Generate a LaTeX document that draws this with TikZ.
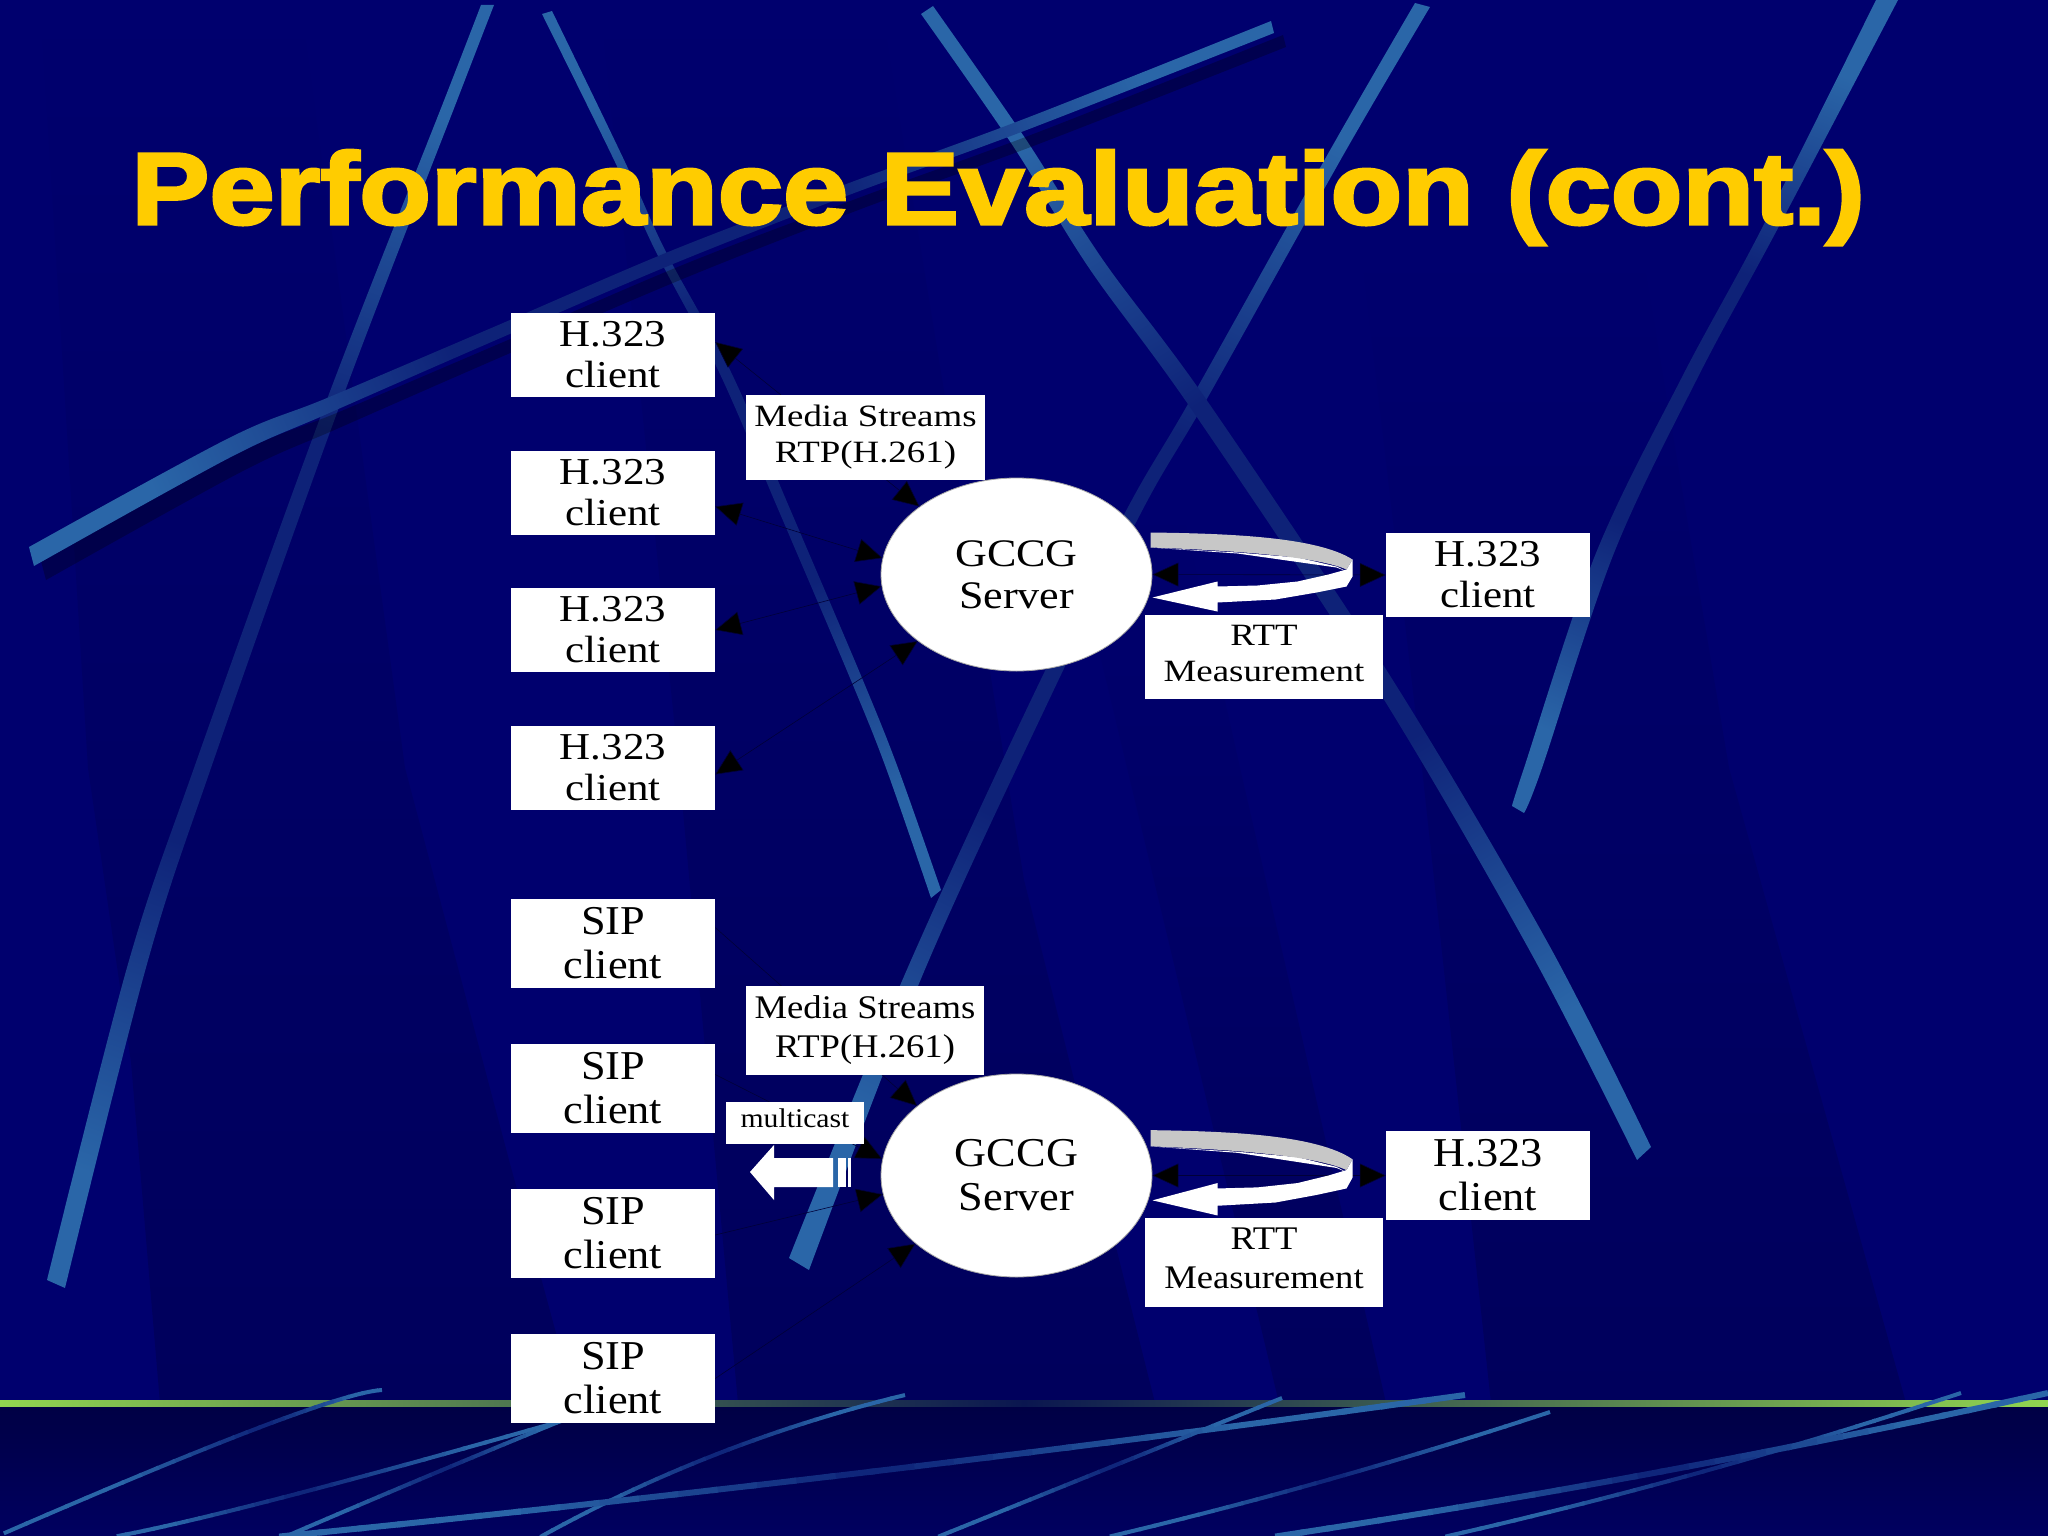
\documentclass[tikz,border=0pt]{standalone}
\usepackage{fontspec}
\usetikzlibrary{arrows.meta,shapes.geometric}
\setmainfont{Liberation Serif}
\font\titlef="Liberation Sans/B:extend=1.15;embolden=3" at 102pt
\newfontfamily\fa{Liberation Serif}[FakeStretch=1.13]
\newfontfamily\fb{Liberation Serif}[FakeStretch=1.08]
\newfontfamily\fc{Liberation Serif}[FakeStretch=1.19]
\newfontfamily\fd{Liberation Serif}[FakeStretch=1.11]
\newfontfamily\fe{Liberation Serif}[FakeStretch=1.10]
\definecolor{navy}{HTML}{00006E}
\definecolor{navydark}{HTML}{00005C}
\definecolor{sB}{HTML}{2A66A8}
\definecolor{sD}{HTML}{0E2278}
\definecolor{gold}{HTML}{FFCC00}
\definecolor{lineg}{HTML}{92D650}
\definecolor{lined}{HTML}{0A1650}
\definecolor{connc}{HTML}{000038}
\definecolor{lowA}{HTML}{000044}
\definecolor{lowB}{HTML}{000060}
\pgfdeclareverticalshading{streak}{100bp}{color(0bp)=(sB);color(24bp)=(sB);color(40bp)=(sD);color(60bp)=(sD);color(76bp)=(sB);color(100bp)=(sB)}
\newcommand\dn[1]{\rule[-#1pt]{0pt}{#1pt}}
\tikzset{
  wbox/.style={fill=white,inner sep=0pt,align=center,anchor=center,text=black},
  clientA/.style={wbox,minimum width=204pt,minimum height=84pt,font=\fontsize{38}{41}\fa},
  clientB/.style={wbox,minimum width=204pt,minimum height=89pt,font=\fontsize{41}{44}\fb},
  labelA/.style={wbox,font=\fontsize{31}{36}\fc},
  labelB/.style={wbox,font=\fontsize{33}{39}\fd},
  server/.style={ellipse,fill=white,draw=gray!70,line width=.8pt,inner sep=0pt,minimum width=271pt,align=center,text=black},
  conn/.style={draw=connc,line width=.6pt,{Triangle[length=26pt,width=24pt,fill=black]}-{Triangle[length=26pt,width=24pt,fill=black]}},
  connR/.style={draw=connc,line width=.6pt,-{Triangle[length=26pt,width=24pt,fill=black]}},
  sk/.style={shading=streak},
  smo/.style={smooth,tension=.55},
}
\newcommand\thinline[7]{%
  \foreach \i in {0,...,29}{%
    \pgfmathsetmacro\ta{\i/30}%
    \pgfmathsetmacro\tb{(\i+1.15)/30}%
    \pgfmathsetmacro\mixv{min(100,abs(2*(\ta+.0167)-1)*160)}%
    \pgfmathsetmacro\xa{(1-\ta)^2*#1+2*\ta*(1-\ta)*#3+\ta^2*#5}%
    \pgfmathsetmacro\ya{(1-\ta)^2*#2+2*\ta*(1-\ta)*#4+\ta^2*#6}%
    \pgfmathsetmacro\xb{(1-\tb)^2*#1+2*\tb*(1-\tb)*#3+\tb^2*#5}%
    \pgfmathsetmacro\yb{(1-\tb)^2*#2+2*\tb*(1-\tb)*#4+\tb^2*#6}%
    \draw[line width=#7pt,color=sB!\mixv!sD] (\xa,\ya) -- (\xb,\yb);
  }}
\newcommand\rttband{%
  \fill[white] (134,-27) -- (221,-22) -- (281,-17) -- (320,-8) -- (330,-3) -- (320,-7) -- (221,-21) -- cycle;
  \fill[white] (336,-15) -- (336,2) -- (330,12) -- (300,18) -- (259,25) -- (201,28) -- (201,37) -- (136,23) -- (201,7) -- (201,12) -- (241,11) -- (281,7) -- (312,0) -- (330,-5) -- cycle;
  \fill[black!22] (134,-42) .. controls (210,-41) and (300,-38) .. (336,-15) -- (330,-5) .. controls (300,-18) and (220,-24) .. (134,-27) -- cycle;
}
\begin{document}
\begin{tikzpicture}[x=1pt,y=-1pt]
\useasboundingbox (0,0) rectangle (2048,1536);
\clip (0,0) rectangle (2048,1536);
% background
\fill[navy] (0,0) rectangle (2048,1403);
\shade[top color=navy,bottom color=navydark] (40,0) -- (300,0) -- (405,768) -- (509,1160) -- (575,1403) -- (160,1403) -- (131,1062) -- (88,768) -- cycle;
\shade[top color=navy,bottom color=navydark] (600,0) -- (880,0) -- (1024,880) -- (1155,1403) -- (738,1403) -- (679,768) -- cycle;
\shade[top color=navy,bottom color=navydark] (1063,500) -- (1180,500) -- (1240,768) -- (1386,1403) -- (1279,1403) -- cycle;
\shade[top color=navy,bottom color=navydark] (1360,240) -- (1640,240) -- (1729,768) -- (1906,1403) -- (1491,1403) -- (1422,768) -- cycle;
\shade[top color=lowA,bottom color=lowB] (0,1403) rectangle (2048,1536);
% upper streaks
\shade[sk,shading angle=-19] plot[smo] coordinates {(481,5) (445,98) (326,402) (194,768) (128,964) (47,1280)} -- plot[smo] coordinates {(65,1288) (147,964) (211,768) (341,402) (458,98) (494,5)} -- cycle;
\shade[sk,shading angle=24] plot[smo] coordinates {(542,14) (615,162) (656,252) (719,372) (778,509) (850,678) (886,768) (931,898)} -- plot[smo] coordinates {(941,890) (898,768) (862,678) (790,509) (731,372) (666,252) (625,162) (552,11)} -- cycle;
\shade[sk,shading angle=-26] plot[smo] coordinates {(1415,3) (1329,152) (1192,397) (1127,509) (1031,700) (905,974) (789,1258)} -- plot[smo] coordinates {(809,1270) (923,974) (1049,700) (1143,509) (1208,397) (1345,152) (1430,7)} -- cycle;
\shade[sk,shading angle=32] plot[smo] coordinates {(921,14) (1013,146) (1089,268) (1192,410) (1378,690) (1531,953) (1637,1160)} -- plot[smo] coordinates {(1651,1147) (1549,945) (1394,682) (1208,402) (1103,260) (1025,138) (933,6)} -- cycle;
\shade[sk,shading angle=-21] plot[smo] coordinates {(1876,0) (1761,230) (1682,377) (1596,553) (1524,768) (1512,806)} -- plot[smo] coordinates {(1524,813) (1542,768) (1614,553) (1698,377) (1777,230) (1898,0)} -- cycle;
\fill[black,opacity=.28] plot[smo] coordinates {(1283,35) (1036,133) (861,197) (685,264) (508,340) (339,412) (241,452) (41,561)} -- plot[smo] coordinates {(46,580) (241,472) (339,428) (508,354) (685,278) (861,209) (1036,145) (1286,47)} -- cycle;
\shade[sk,shading angle=-67] plot[smo] coordinates {(1271,21) (1024,119) (849,183) (673,250) (496,326) (327,398) (229,438) (29,547)} -- plot[smo] coordinates {(34,566) (229,458) (327,414) (496,340) (673,264) (849,195) (1024,131) (1274,33)} -- cycle;
% green line
\shade[left color=lineg,right color=lineg,middle color=lined] (0,1400.5) rectangle (2048,1406.5);
% lower streaks
\thinline{382}{1390}{327}{1393}{7}{1532}{4}
\thinline{600}{1410}{241}{1513}{118}{1536}{4}
\thinline{600}{1405}{440}{1470}{287}{1536}{4}
\thinline{905}{1395}{712}{1442}{542}{1536}{4}
\thinline{1465}{1395}{875}{1477}{285}{1536}{6}
\thinline{1282}{1398}{1111}{1467}{940}{1536}{4}
\thinline{1550}{1412}{1331}{1484}{1112}{1536}{4}
\thinline{1961}{1393}{1704}{1478}{1448}{1536}{4}
\thinline{2048}{1393}{1663}{1478}{1279}{1536}{6}
% title
\node[anchor=base west,inner sep=0pt,text=gold,font=\titlef] (title) at (131,224) {Performance Evaluation (cont.)};
% upper group
\node[clientA] (h1) at (613,355) {H.323\\client};
\node[clientA] (h2) at (613,492.5) {H.323\\client};
\node[clientA] (h3) at (613,630) {H.323\\client};
\node[clientA] (h4) at (613,767.5) {H.323\\client};
\node[server,minimum height=193pt,font=\fontsize{39}{42}\fa] (g1) at (1016.5,574.5) {GCCG\\Server};
\node[clientA] (r1) at (1488,575) {H.323\\client};
\draw[conn] ([yshift=13pt]h1.east) -- (g1.145);
\draw[conn] ([yshift=-14pt]h2.east) -- (g1.173);
\draw[conn] (h3.east) -- (g1.185);
\draw[conn] ([yshift=-7pt]h4.east) -- (g1.214);
\draw[conn] (g1.east) -- (r1.west);
\begin{scope}[shift={(g1.center)}]\rttband\end{scope}
\node[labelA,minimum width=239pt,minimum height=85pt] (m1) at (865.5,437.5) {Media Streams\\RTP(H.261)};
\node[labelA,minimum width=238pt,minimum height=84pt] (t1) at (1264,657) {RTT\\Measurement\dn{8}};
% lower group
\node[server,minimum height=203pt,font=\fontsize{41}{44}\fb] (g2) at (1016.5,1175.5) {GCCG\\Server};
\node[clientB] (r2) at (1488,1175.5) {H.323\\client};
\node[clientB] (s1) at (613,943.5) {SIP\\client};
\node[clientB] (s2) at (613,1088.5) {SIP\\client};
\node[clientB] (s3) at (613,1233) {SIP\\client};
\node[clientB] (s4) at (613,1378.5) {SIP\\client};
\draw[connR] ([yshift=16pt]s1.east) -- (g2.145);
\draw[connR] ([yshift=14pt]s2.east) -- (g2.173);
\draw[connR] ([yshift=-2pt]s3.east) -- (g2.188);
\draw[connR] (s4.east) -- (g2.214);
\draw[conn] (g2.east) -- (r2.west);
\begin{scope}[shift={(g2.center)},yscale=1.08]\rttband\end{scope}
\fill[white] (750,1172) -- (774,1145) -- (774,1158) -- (833,1158) -- (833,1187) -- (774,1187) -- (774,1200) -- cycle;
\fill[white] (838,1158) rectangle (846,1187);
\fill[white] (848,1158) rectangle (851,1187);
\node[labelB,minimum width=238pt,minimum height=89pt] (m2) at (865,1030.5) {Media Streams\\RTP(H.261)};
\node[labelB,minimum width=238pt,minimum height=89pt] (t2) at (1264,1262) {RTT\\Measurement\dn{8}};
\node[wbox,minimum width=138pt,minimum height=42pt,font=\fontsize{27}{30}\fe] (mc) at (795,1123) {multicast\dn{10}};
\end{tikzpicture}
\end{document}
